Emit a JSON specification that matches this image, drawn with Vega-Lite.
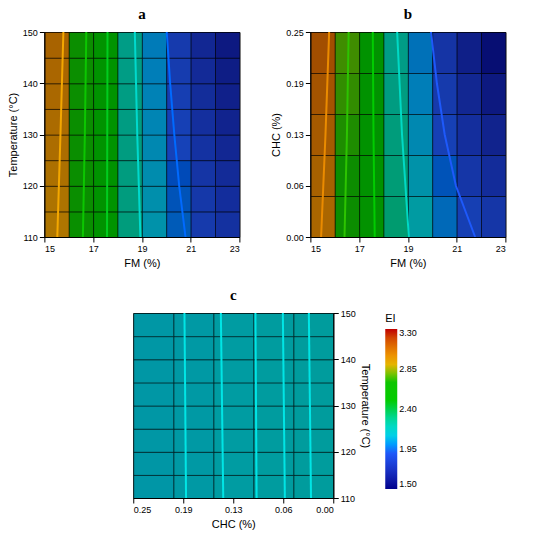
{
  "$schema": "https://vega.github.io/schema/vega-lite/v6.json",
  "padding": 6,
  "background": "white",
  "config": {
    "font": "Liberation Sans",
    "view": {"stroke": "#000", "strokeWidth": 1, "fill": "#000"},
    "axis": {"labelFontSize": 9, "titleFontSize": 11, "titleFontWeight": "normal", "grid": false, "domainColor": "#000", "tickColor": "#000", "labelColor": "#000", "titleColor": "#000"},
    "title": {"font": "Liberation Serif", "fontSize": 15, "fontWeight": "bold", "anchor": "middle", "color": "#000", "offset": 6},
    "legend": {"labelFontSize": 9, "titleFontSize": 11, "titleFontWeight": "normal", "labelColor": "#000", "titleColor": "#000"}
  },
  "datasets": {
    "a_grid": [
      {"FM": 15.5, "T": 112.5, "EI": 2.958}, {"FM": 15.5, "T": 117.5, "EI": 2.968}, {"FM": 15.5, "T": 122.5, "EI": 2.979}, {"FM": 15.5, "T": 127.5, "EI": 2.989},
      {"FM": 15.5, "T": 132.5, "EI": 2.999}, {"FM": 15.5, "T": 137.5, "EI": 3.009}, {"FM": 15.5, "T": 142.5, "EI": 3.019}, {"FM": 15.5, "T": 147.5, "EI": 3.029},
      {"FM": 16.5, "T": 112.5, "EI": 2.688}, {"FM": 16.5, "T": 117.5, "EI": 2.694}, {"FM": 16.5, "T": 122.5, "EI": 2.699}, {"FM": 16.5, "T": 127.5, "EI": 2.705},
      {"FM": 16.5, "T": 132.5, "EI": 2.710}, {"FM": 16.5, "T": 137.5, "EI": 2.716}, {"FM": 16.5, "T": 142.5, "EI": 2.721}, {"FM": 16.5, "T": 147.5, "EI": 2.727},
      {"FM": 17.5, "T": 112.5, "EI": 2.453}, {"FM": 17.5, "T": 117.5, "EI": 2.454}, {"FM": 17.5, "T": 122.5, "EI": 2.455}, {"FM": 17.5, "T": 127.5, "EI": 2.456},
      {"FM": 17.5, "T": 132.5, "EI": 2.456}, {"FM": 17.5, "T": 137.5, "EI": 2.457}, {"FM": 17.5, "T": 142.5, "EI": 2.458}, {"FM": 17.5, "T": 147.5, "EI": 2.459},
      {"FM": 18.5, "T": 112.5, "EI": 2.254}, {"FM": 18.5, "T": 117.5, "EI": 2.250}, {"FM": 18.5, "T": 122.5, "EI": 2.246}, {"FM": 18.5, "T": 127.5, "EI": 2.242},
      {"FM": 18.5, "T": 132.5, "EI": 2.238}, {"FM": 18.5, "T": 137.5, "EI": 2.234}, {"FM": 18.5, "T": 142.5, "EI": 2.230}, {"FM": 18.5, "T": 147.5, "EI": 2.226},
      {"FM": 19.5, "T": 112.5, "EI": 2.089}, {"FM": 19.5, "T": 117.5, "EI": 2.080}, {"FM": 19.5, "T": 122.5, "EI": 2.072}, {"FM": 19.5, "T": 127.5, "EI": 2.063},
      {"FM": 19.5, "T": 132.5, "EI": 2.054}, {"FM": 19.5, "T": 137.5, "EI": 2.046}, {"FM": 19.5, "T": 142.5, "EI": 2.037}, {"FM": 19.5, "T": 147.5, "EI": 2.029},
      {"FM": 20.5, "T": 112.5, "EI": 1.959}, {"FM": 20.5, "T": 117.5, "EI": 1.946}, {"FM": 20.5, "T": 122.5, "EI": 1.932}, {"FM": 20.5, "T": 127.5, "EI": 1.919},
      {"FM": 20.5, "T": 132.5, "EI": 1.906}, {"FM": 20.5, "T": 137.5, "EI": 1.893}, {"FM": 20.5, "T": 142.5, "EI": 1.879}, {"FM": 20.5, "T": 147.5, "EI": 1.866},
      {"FM": 21.5, "T": 112.5, "EI": 1.864}, {"FM": 21.5, "T": 117.5, "EI": 1.846}, {"FM": 21.5, "T": 122.5, "EI": 1.828}, {"FM": 21.5, "T": 127.5, "EI": 1.810},
      {"FM": 21.5, "T": 132.5, "EI": 1.792}, {"FM": 21.5, "T": 137.5, "EI": 1.774}, {"FM": 21.5, "T": 142.5, "EI": 1.756}, {"FM": 21.5, "T": 147.5, "EI": 1.738},
      {"FM": 22.5, "T": 112.5, "EI": 1.804}, {"FM": 22.5, "T": 117.5, "EI": 1.782}, {"FM": 22.5, "T": 122.5, "EI": 1.759}, {"FM": 22.5, "T": 127.5, "EI": 1.736},
      {"FM": 22.5, "T": 132.5, "EI": 1.714}, {"FM": 22.5, "T": 137.5, "EI": 1.691}, {"FM": 22.5, "T": 142.5, "EI": 1.668}, {"FM": 22.5, "T": 147.5, "EI": 1.646}
    ],
    "a_cont": [
      {"EI": 2.945, "FM": 15.53, "T": 110}, {"EI": 2.945, "FM": 15.66, "T": 130}, {"EI": 2.945, "FM": 15.78, "T": 150},
      {"EI": 2.666, "FM": 16.58, "T": 110}, {"EI": 2.666, "FM": 16.66, "T": 130}, {"EI": 2.666, "FM": 16.72, "T": 150},
      {"EI": 2.438, "FM": 17.57, "T": 110}, {"EI": 2.438, "FM": 17.58, "T": 130}, {"EI": 2.438, "FM": 17.59, "T": 150},
      {"EI": 2.18, "FM": 18.94, "T": 110}, {"EI": 2.18, "FM": 18.81, "T": 130}, {"EI": 2.18, "FM": 18.71, "T": 150},
      {"EI": 1.935, "FM": 20.79, "T": 110}, {"EI": 1.935, "FM": 20.53, "T": 120}, {"EI": 1.935, "FM": 20.33, "T": 130}, {"EI": 1.935, "FM": 20.16, "T": 140}, {"EI": 1.935, "FM": 20.02, "T": 150}
    ],
    "b_grid": [
      {"FM": 15.5, "CHC": 0.025, "EI": 3.016}, {"FM": 15.5, "CHC": 0.075, "EI": 3.038}, {"FM": 15.5, "CHC": 0.125, "EI": 3.061}, {"FM": 15.5, "CHC": 0.175, "EI": 3.083}, {"FM": 15.5, "CHC": 0.225, "EI": 3.106},
      {"FM": 16.5, "CHC": 0.025, "EI": 2.735}, {"FM": 16.5, "CHC": 0.075, "EI": 2.745}, {"FM": 16.5, "CHC": 0.125, "EI": 2.755}, {"FM": 16.5, "CHC": 0.175, "EI": 2.765}, {"FM": 16.5, "CHC": 0.225, "EI": 2.775},
      {"FM": 17.5, "CHC": 0.025, "EI": 2.492}, {"FM": 17.5, "CHC": 0.075, "EI": 2.489}, {"FM": 17.5, "CHC": 0.125, "EI": 2.486}, {"FM": 17.5, "CHC": 0.175, "EI": 2.484}, {"FM": 17.5, "CHC": 0.225, "EI": 2.481},
      {"FM": 18.5, "CHC": 0.025, "EI": 2.286}, {"FM": 18.5, "CHC": 0.075, "EI": 2.271}, {"FM": 18.5, "CHC": 0.125, "EI": 2.255}, {"FM": 18.5, "CHC": 0.175, "EI": 2.240}, {"FM": 18.5, "CHC": 0.225, "EI": 2.225},
      {"FM": 19.5, "CHC": 0.025, "EI": 2.118}, {"FM": 19.5, "CHC": 0.075, "EI": 2.090}, {"FM": 19.5, "CHC": 0.125, "EI": 2.062}, {"FM": 19.5, "CHC": 0.175, "EI": 2.034}, {"FM": 19.5, "CHC": 0.225, "EI": 2.006},
      {"FM": 20.5, "CHC": 0.025, "EI": 1.987}, {"FM": 20.5, "CHC": 0.075, "EI": 1.946}, {"FM": 20.5, "CHC": 0.125, "EI": 1.906}, {"FM": 20.5, "CHC": 0.175, "EI": 1.865}, {"FM": 20.5, "CHC": 0.225, "EI": 1.825},
      {"FM": 21.5, "CHC": 0.025, "EI": 1.894}, {"FM": 21.5, "CHC": 0.075, "EI": 1.840}, {"FM": 21.5, "CHC": 0.125, "EI": 1.787}, {"FM": 21.5, "CHC": 0.175, "EI": 1.734}, {"FM": 21.5, "CHC": 0.225, "EI": 1.681},
      {"FM": 22.5, "CHC": 0.025, "EI": 1.838}, {"FM": 22.5, "CHC": 0.075, "EI": 1.772}, {"FM": 22.5, "CHC": 0.125, "EI": 1.706}, {"FM": 22.5, "CHC": 0.175, "EI": 1.641}, {"FM": 22.5, "CHC": 0.225, "EI": 1.575}
    ],
    "b_cont": [
      {"EI": 3.022, "FM": 15.44, "CHC": 0}, {"EI": 3.022, "FM": 15.62, "CHC": 0.125}, {"EI": 3.022, "FM": 15.77, "CHC": 0.25},
      {"EI": 2.756, "FM": 16.40, "CHC": 0}, {"EI": 2.756, "FM": 16.50, "CHC": 0.125}, {"EI": 2.756, "FM": 16.57, "CHC": 0.25},
      {"EI": 2.463, "FM": 17.64, "CHC": 0}, {"EI": 2.463, "FM": 17.59, "CHC": 0.125}, {"EI": 2.463, "FM": 17.56, "CHC": 0.25},
      {"EI": 2.202, "FM": 19.04, "CHC": 0}, {"EI": 2.202, "FM": 18.76, "CHC": 0.125}, {"EI": 2.202, "FM": 18.56, "CHC": 0.25},
      {"EI": 1.904, "FM": 21.76, "CHC": 0}, {"EI": 1.904, "FM": 20.97, "CHC": 0.0625}, {"EI": 1.904, "FM": 20.51, "CHC": 0.125}, {"EI": 1.904, "FM": 20.19, "CHC": 0.1875}, {"EI": 1.904, "FM": 19.95, "CHC": 0.25}
    ],
    "c_grid": [
      {"CHC": 0.025, "T": 112.5, "EI": 2.1429}, {"CHC": 0.025, "T": 117.5, "EI": 2.1430}, {"CHC": 0.025, "T": 122.5, "EI": 2.1431}, {"CHC": 0.025, "T": 127.5, "EI": 2.1432},
      {"CHC": 0.025, "T": 132.5, "EI": 2.1432}, {"CHC": 0.025, "T": 137.5, "EI": 2.1433}, {"CHC": 0.025, "T": 142.5, "EI": 2.1434}, {"CHC": 0.025, "T": 147.5, "EI": 2.1435},
      {"CHC": 0.075, "T": 112.5, "EI": 2.1305}, {"CHC": 0.075, "T": 117.5, "EI": 2.1306}, {"CHC": 0.075, "T": 122.5, "EI": 2.1307}, {"CHC": 0.075, "T": 127.5, "EI": 2.1308},
      {"CHC": 0.075, "T": 132.5, "EI": 2.1308}, {"CHC": 0.075, "T": 137.5, "EI": 2.1309}, {"CHC": 0.075, "T": 142.5, "EI": 2.1310}, {"CHC": 0.075, "T": 147.5, "EI": 2.1311},
      {"CHC": 0.125, "T": 112.5, "EI": 2.1197}, {"CHC": 0.125, "T": 117.5, "EI": 2.1198}, {"CHC": 0.125, "T": 122.5, "EI": 2.1199}, {"CHC": 0.125, "T": 127.5, "EI": 2.1200},
      {"CHC": 0.125, "T": 132.5, "EI": 2.1200}, {"CHC": 0.125, "T": 137.5, "EI": 2.1201}, {"CHC": 0.125, "T": 142.5, "EI": 2.1202}, {"CHC": 0.125, "T": 147.5, "EI": 2.1203},
      {"CHC": 0.175, "T": 112.5, "EI": 2.1105}, {"CHC": 0.175, "T": 117.5, "EI": 2.1106}, {"CHC": 0.175, "T": 122.5, "EI": 2.1107}, {"CHC": 0.175, "T": 127.5, "EI": 2.1108},
      {"CHC": 0.175, "T": 132.5, "EI": 2.1108}, {"CHC": 0.175, "T": 137.5, "EI": 2.1109}, {"CHC": 0.175, "T": 142.5, "EI": 2.1110}, {"CHC": 0.175, "T": 147.5, "EI": 2.1111},
      {"CHC": 0.225, "T": 112.5, "EI": 2.1029}, {"CHC": 0.225, "T": 117.5, "EI": 2.1030}, {"CHC": 0.225, "T": 122.5, "EI": 2.1031}, {"CHC": 0.225, "T": 127.5, "EI": 2.1032},
      {"CHC": 0.225, "T": 132.5, "EI": 2.1032}, {"CHC": 0.225, "T": 137.5, "EI": 2.1033}, {"CHC": 0.225, "T": 142.5, "EI": 2.1034}, {"CHC": 0.225, "T": 147.5, "EI": 2.1035}
    ],
    "c_cont": [
      {"EI": 2.1093, "CHC": 0.184, "T": 110}, {"EI": 2.1093, "CHC": 0.186, "T": 150},
      {"EI": 2.1175, "CHC": 0.1375, "T": 110}, {"EI": 2.1175, "CHC": 0.1405, "T": 150},
      {"EI": 2.1261, "CHC": 0.0958, "T": 110}, {"EI": 2.1261, "CHC": 0.0973, "T": 150},
      {"EI": 2.1342, "CHC": 0.0605, "T": 110}, {"EI": 2.1342, "CHC": 0.063, "T": 150},
      {"EI": 2.1425, "CHC": 0.0278, "T": 110}, {"EI": 2.1425, "CHC": 0.0305, "T": 150}
    ]
  },
  "resolve": {"scale": {"color": "shared"}, "legend": {"color": "independent"}},
  "center": true,
  "spacing": 18,
  "vconcat": [
    {
      "spacing": 28,
      "resolve": {"scale": {"color": "shared"}, "legend": {"color": "independent"}},
      "hconcat": [
        {
          "title": "a",
          "width": 195,
          "height": 205,
          "layer": [
            {
              "data": {"name": "a_grid"},
              "mark": {"type": "rect", "stroke": "#000", "strokeWidth": 0.5, "fillOpacity": 0.72},
              "encoding": {
                "x": {"field": "FM", "type": "quantitative", "bin": {"step": 1, "extent": [15, 23]}, "scale": {"domain": [15, 23], "nice": false}, "axis": {"title": "FM (%)", "values": [15, 17, 19, 21, 23], "format": "d"}},
                "y": {"field": "T", "type": "quantitative", "bin": {"step": 5, "extent": [110, 150]}, "scale": {"domain": [110, 150], "nice": false}, "axis": {"title": "Temperature (°C)", "values": [110, 120, 130, 140, 150], "format": "d"}},
                "color": {"field": "EI", "type": "quantitative", "scale": {"domain": [1.5, 1.92, 2.12, 2.45, 2.75, 2.92, 3.3], "range": ["#00008c", "#1e5cff", "#00d8e0", "#00cc00", "#10c400", "#f5b000", "#c00000"]}, "legend": null}
              }
            },
            {
              "data": {"name": "a_cont"},
              "mark": {"type": "line", "strokeWidth": 2},
              "encoding": {
                "x": {"field": "FM", "type": "quantitative"},
                "y": {"field": "T", "type": "quantitative"},
                "detail": {"field": "EI", "type": "nominal"},
                "order": {"field": "T", "type": "quantitative"},
                "color": {"field": "EI", "type": "quantitative", "legend": null}
              }
            }
          ]
        },
        {
          "title": "b",
          "width": 195,
          "height": 205,
          "layer": [
            {
              "data": {"name": "b_grid"},
              "mark": {"type": "rect", "stroke": "#000", "strokeWidth": 0.5, "fillOpacity": 0.72},
              "encoding": {
                "x": {"field": "FM", "type": "quantitative", "bin": {"step": 1, "extent": [15, 23]}, "scale": {"domain": [15, 23], "nice": false}, "axis": {"title": "FM (%)", "values": [15, 17, 19, 21, 23], "format": "d"}},
                "y": {"field": "CHC", "type": "quantitative", "bin": {"step": 0.05, "extent": [0, 0.25]}, "scale": {"domain": [0, 0.25], "nice": false}, "axis": {"title": "CHC (%)", "values": [0, 0.0625, 0.125, 0.1875, 0.25], "labelExpr": "datum.value == 0.0625 ? '0.06' : format(datum.value, '.2f')"}},
                "color": {"field": "EI", "type": "quantitative", "scale": {"domain": [1.5, 1.92, 2.12, 2.45, 2.75, 2.92, 3.3], "range": ["#00008c", "#1e5cff", "#00d8e0", "#00cc00", "#10c400", "#f5b000", "#c00000"]}, "legend": null}
              }
            },
            {
              "data": {"name": "b_cont"},
              "mark": {"type": "line", "strokeWidth": 2},
              "encoding": {
                "x": {"field": "FM", "type": "quantitative"},
                "y": {"field": "CHC", "type": "quantitative"},
                "detail": {"field": "EI", "type": "nominal"},
                "order": {"field": "CHC", "type": "quantitative"},
                "color": {"field": "EI", "type": "quantitative", "legend": null}
              }
            }
          ]
        }
      ]
    },
    {
      "title": "c",
      "width": 200,
      "height": 185,
      "layer": [
        {
          "data": {"name": "c_grid"},
          "mark": {"type": "rect", "stroke": "#000", "strokeWidth": 0.5, "fillOpacity": 0.72},
          "encoding": {
            "x": {"field": "CHC", "type": "quantitative", "bin": {"step": 0.05, "extent": [0, 0.25]}, "scale": {"domain": [0, 0.25], "nice": false, "reverse": true}, "axis": {"title": "CHC (%)", "values": [0, 0.0625, 0.125, 0.1875, 0.25], "labelExpr": "datum.value == 0.0625 ? '0.06' : format(datum.value, '.2f')"}},
            "y": {"field": "T", "type": "quantitative", "bin": {"step": 5, "extent": [110, 150]}, "scale": {"domain": [110, 150], "nice": false}, "axis": {"title": "Temperature (°C)", "orient": "right", "values": [110, 120, 130, 140, 150], "format": "d"}},
            "color": {"field": "EI", "type": "quantitative", "scale": {"domain": [1.5, 1.92, 2.12, 2.45, 2.75, 2.92, 3.3], "range": ["#00008c", "#1e5cff", "#00d8e0", "#00cc00", "#10c400", "#f5b000", "#c00000"]}, "legend": {"type": "gradient", "title": "EI", "orient": "right", "values": [1.5, 1.95, 2.4, 2.85, 3.3], "format": ".2f", "gradientLength": 160, "gradientThickness": 12, "offset": 14}}
          }
        },
        {
          "data": {"name": "c_cont"},
          "mark": {"type": "line", "strokeWidth": 2, "color": "#00e5e5"},
          "encoding": {
            "x": {"field": "CHC", "type": "quantitative"},
            "y": {"field": "T", "type": "quantitative"},
            "detail": {"field": "EI", "type": "nominal"},
            "order": {"field": "T", "type": "quantitative"}
          }
        }
      ]
    }
  ]
}
